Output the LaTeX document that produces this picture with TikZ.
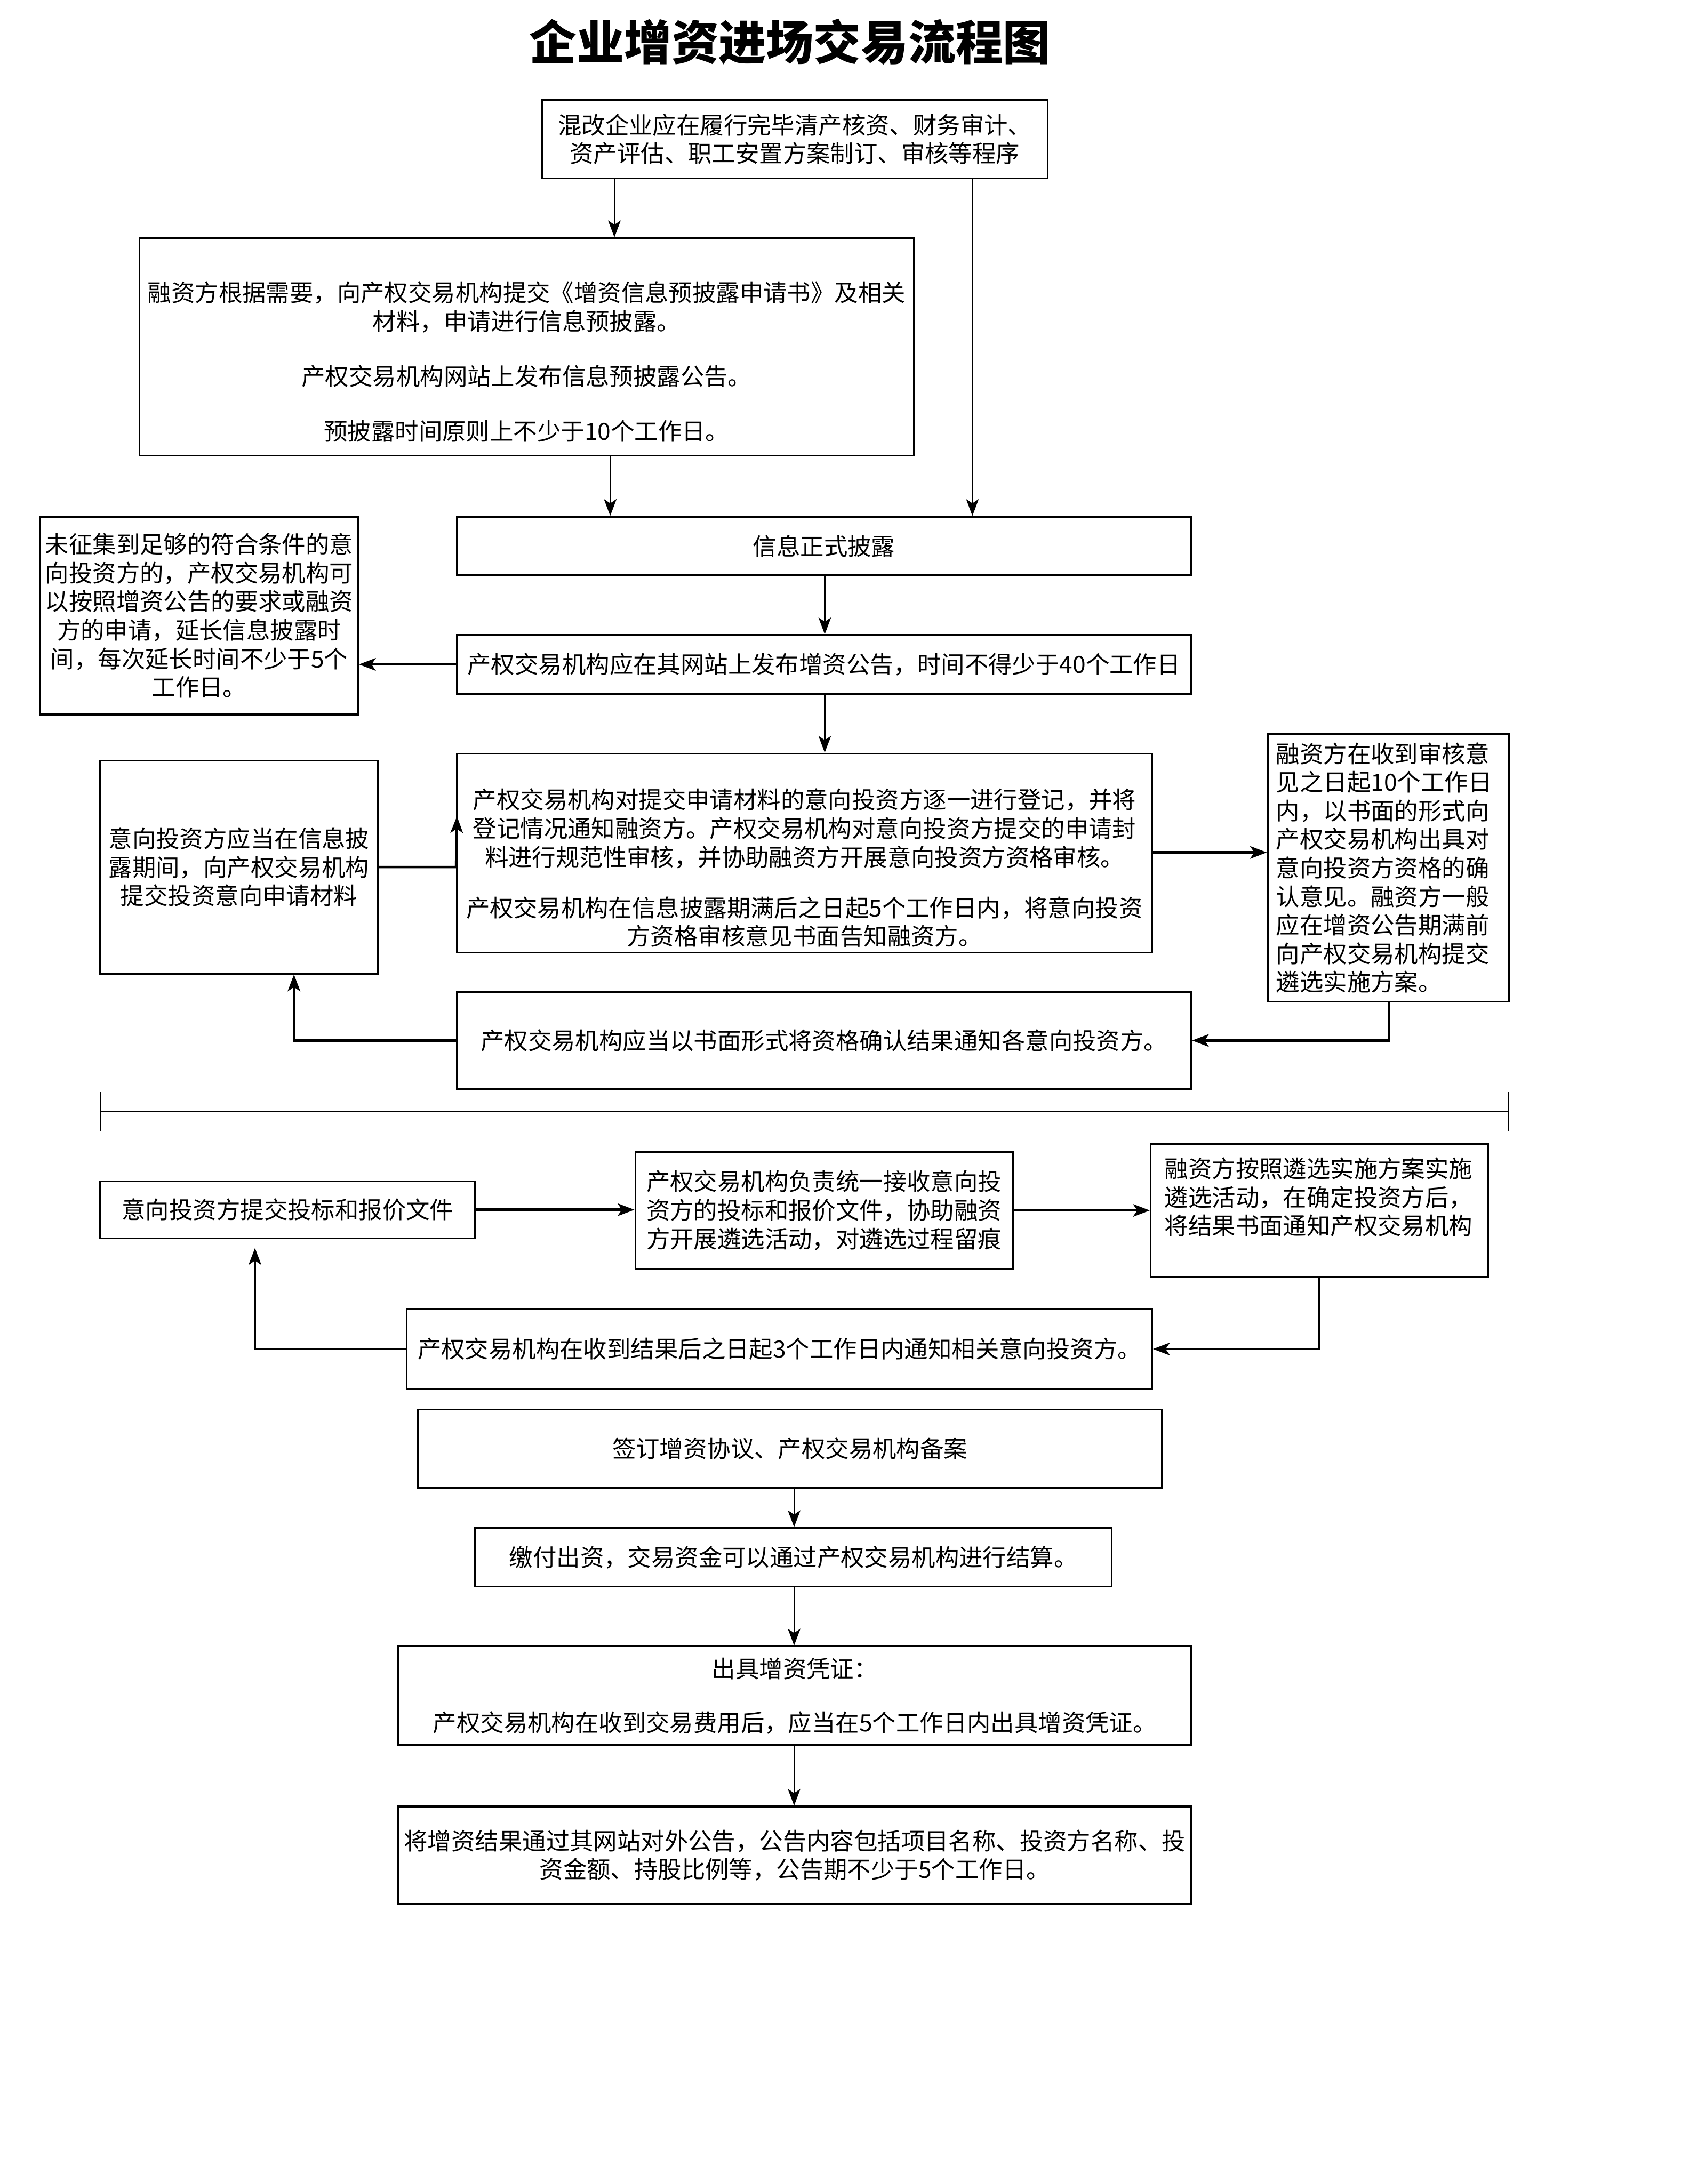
\documentclass[tikz,border=0pt]{standalone}
\usepackage{fontspec}
\setmainfont{Noto Sans CJK SC}
\usetikzlibrary{arrows.meta}
\begin{document}
\begin{tikzpicture}[x=1pt,y=-1pt,
  box/.style={draw, line width=1.3pt, inner sep=0pt, align=center,
    font=\fontsize{17}{20.5}\selectfont},
  arrA/.style={-{Stealth[length=12pt,width=9pt,inset=3pt]}, line width=1pt},
  arrB/.style={-{Stealth[length=12pt,width=9pt,inset=3pt]}, line width=1.8pt},
  lineA/.style={line width=1pt}
]
\useasboundingbox[fill=white] (0,0) rectangle (1212,1568);

\node[font=\fontsize{34}{40}\selectfont\bfseries, inner sep=0pt] (title) at (567,30) {企业增资进场交易流程图};

\node[box, minimum width=363pt, minimum height=56pt] (A) at (570.5,100)
  {混改企业应在履行完毕清产核资、财务审计、\\资产评估、职工安置方案制订、审核等程序};

\node[box, minimum width=556pt, minimum height=156pt] (B) at (378,249)
  {\strut\\融资方根据需要，向产权交易机构提交《增资信息预披露申请书》及相关\\材料，申请进行信息预披露。\\[19pt]产权交易机构网站上发布信息预披露公告。\\[19pt]预披露时间原则上不少于10个工作日。};

\node[box, minimum width=527pt, minimum height=42pt] (C) at (591.5,392) {信息正式披露};

\node[box, minimum width=527pt, minimum height=42pt] (D) at (591.5,477)
  {产权交易机构应在其网站上发布增资公告，时间不得少于40个工作日};

\node[box, minimum width=228pt, minimum height=142pt] (E) at (143,442)
  {未征集到足够的符合条件的意\\向投资方的，产权交易机构可\\以按照增资公告的要求或融资\\方的申请，延长信息披露时\\间，每次延长时间不少于5个\\工作日。};

\node[box, minimum width=499pt, minimum height=143pt] (F) at (577.5,612.5)
  {\strut\\产权交易机构对提交申请材料的意向投资方逐一进行登记，并将\\登记情况通知融资方。产权交易机构对意向投资方提交的申请封\\料进行规范性审核，并协助融资方开展意向投资方资格审核。\\[16pt]产权交易机构在信息披露期满后之日起5个工作日内，将意向投资\\方资格审核意见书面告知融资方。};

\node[box, minimum width=199pt, minimum height=153pt] (G) at (171.5,622.5)
  {意向投资方应当在信息披\\露期间，向产权交易机构\\提交投资意向申请材料};

\node[box, align=left, text width=161pt, inner sep=6pt, minimum height=192pt] (H) at (996.5,623)
  {融资方在收到审核意\\见之日起10个工作日\\内，以书面的形式向\\产权交易机构出具对\\意向投资方资格的确\\认意见。融资方一般\\应在增资公告期满前\\向产权交易机构提交\\遴选实施方案。};

\node[box, minimum width=527pt, minimum height=70pt] (I) at (591.5,747)
  {产权交易机构应当以书面形式将资格确认结果通知各意向投资方。};

% separator
\coordinate (sL) at (72,798);
\coordinate (sR) at (1083,798);
\coordinate (sLt) at (72,784);
\coordinate (sLb) at (72,812);
\coordinate (sRt) at (1083,784);
\coordinate (sRb) at (1083,812);
\draw[lineA] (sL) -- (sR);
\draw[lineA] (sLt) -- (sLb);
\draw[lineA] (sRt) -- (sRb);

\node[box, minimum width=269pt, minimum height=41pt] (J) at (206.5,868.5)
  {意向投资方提交投标和报价文件};

\node[box, minimum width=271pt, minimum height=84pt] (K) at (591.5,869)
  {产权交易机构负责统一接收意向投\\资方的投标和报价文件，协助融资\\方开展遴选活动，对遴选过程留痕};

\node[box, align=left, text width=222pt, inner sep=10pt, minimum height=84pt] (L) at (947,869)
  {融资方按照遴选实施方案实施\\遴选活动，在确定投资方后，\\将结果书面通知产权交易机构\\\mbox{}};

\node[box, minimum width=535pt, minimum height=57pt] (M) at (559.5,968.5)
  {产权交易机构在收到结果后之日起3个工作日内通知相关意向投资方。};

\node[box, minimum width=534pt, minimum height=56pt] (N) at (567,1040)
  {签订增资协议、产权交易机构备案};

\node[box, minimum width=457pt, minimum height=42pt] (O) at (569.5,1118)
  {缴付出资，交易资金可以通过产权交易机构进行结算。};

\node[box, minimum width=569pt, minimum height=71pt] (P) at (570.5,1217.5)
  {出具增资凭证：\\[18pt]产权交易机构在收到交易费用后，应当在5个工作日内出具增资凭证。};

\node[box, minimum width=569pt, minimum height=70pt] (Q) at (570.5,1332)
  {将增资结果通过其网站对外公告，公告内容包括项目名称、投资方名称、投\\资金额、持股比例等，公告期不少于5个工作日。};

% connectors
\draw[arrA] (A.south -| 441,0) -- (B.north -| 441,0);
\draw[arrA] (A.south -| 698,0) -- (C.north -| 698,0);
\draw[arrA] (B.south -| 438,0) -- (C.north -| 438,0);
\draw[arrA] (C.south -| 592,0) -- (D.north -| 592,0);
\draw[arrB] (D.west) -- (E.east |- D.west);
\draw[arrA] (D.south -| 592,0) -- (F.north -| 592,0);
\coordinate (gf) at (F.west |- G.east);
\coordinate (gfEnd) at (328,586);
\draw[arrB] (G.east) -- (gf) -- (gfEnd);
\draw[arrB] (F.east |- 0,612) -- (H.west |- 0,612);
\draw[arrB] (H.south -| 997,0) |- (I.east);
\draw[arrB] (I.west) -| (G.south -| 211,0);

\draw[arrB] (J.east) -- (K.west |- J.east);
\draw[arrB] (K.east) -- (L.west |- K.east);
\draw[arrB] (L.south) |- (M.east);
\coordinate (mjEnd) at (183,896);
\draw[arrB] (M.west) -| (mjEnd);
\draw[arrA] (N.south -| 570,0) -- (O.north -| 570,0);
\draw[arrA] (O.south -| 570,0) -- (P.north -| 570,0);
\draw[arrA] (P.south -| 570,0) -- (Q.north -| 570,0);
\end{tikzpicture}
\end{document}
